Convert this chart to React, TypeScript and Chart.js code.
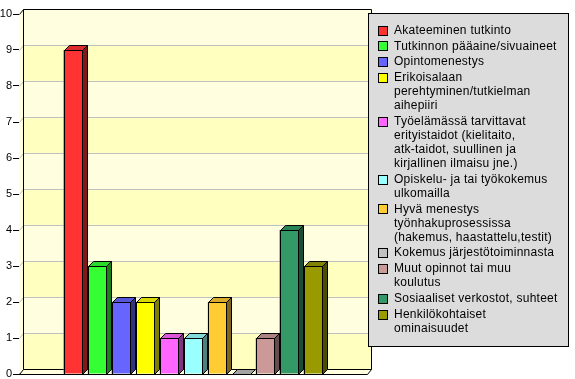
import React, { useEffect, useRef } from 'react';
import { Chart, registerables } from 'chart.js';
Chart.register(...registerables);

const categories = [''];
const seriesLabels = [
  'Akateeminen tutkinto',
  'Tutkinnon pääaine/sivuaineet',
  'Opintomenestys',
  'Erikoisalaan perehtyminen/tutkielman aihepiiri',
  'Työelämässä tarvittavat erityistaidot (kielitaito, atk-taidot, suullinen ja kirjallinen ilmaisu jne.)',
  'Opiskelu- ja tai työkokemus ulkomailla',
  'Hyvä menestys työnhakuprosessissa (hakemus, haastattelu,testit)',
  'Kokemus järjestötoiminnasta',
  'Muut opinnot tai muu koulutus',
  'Sosiaaliset verkostot, suhteet',
  'Henkilökohtaiset ominaisuudet',
];
const legendLines = [
  ['Akateeminen tutkinto'],
  ['Tutkinnon pääaine/sivuaineet'],
  ['Opintomenestys'],
  ['Erikoisalaan', 'perehtyminen/tutkielman', 'aihepiiri'],
  ['Työelämässä tarvittavat', 'erityistaidot (kielitaito,', 'atk-taidot, suullinen ja', 'kirjallinen ilmaisu jne.)'],
  ['Opiskelu- ja tai työkokemus', 'ulkomailla'],
  ['Hyvä menestys', 'työnhakuprosessissa', '(hakemus, haastattelu,testit)'],
  ['Kokemus järjestötoiminnasta'],
  ['Muut opinnot tai muu', 'koulutus'],
  ['Sosiaaliset verkostot, suhteet'],
  ['Henkilökohtaiset', 'ominaisuudet'],
];
const seriesValues = [9, 3, 2, 2, 1, 1, 2, 0, 1, 4, 3];
const seriesColors = [
  '#FF3333', '#33FF33', '#6666FF', '#FFFF00', '#FF66FF', '#99FFFF',
  '#FFCC33', '#C0C0C0', '#CC9999', '#339966', '#999900',
];
const yTicks = [0, 1, 2, 3, 4, 5, 6, 7, 8, 9, 10];

const DX = 5;
const DY = 5;
const WDX = 4;

function shade(hex: string, f: number) {
  const n = parseInt(hex.slice(1), 16);
  const r = Math.round(((n >> 16) & 255) * f);
  const g = Math.round(((n >> 8) & 255) * f);
  const b = Math.round((n & 255) * f);
  return `rgb(${r},${g},${b})`;
}

const wallPlugin = {
  id: 'walls',
  beforeDatasetsDraw(chart: any) {
    const { ctx, chartArea } = chart;
    const ys = chart.scales.y;
    const L = chartArea.left, R = chartArea.right, T = chartArea.top, B = chartArea.bottom;
    ctx.save();
    for (let v = 0; v < 10; v++) {
      const y1 = ys.getPixelForValue(v + 1) - DY;
      const y0 = ys.getPixelForValue(v) - DY;
      ctx.fillStyle = v % 2 === 0 ? '#FFFFC0' : '#FFFFE0';
      ctx.fillRect(L + WDX, y1, R - L, y0 - y1);
    }
    ctx.fillStyle = '#FFFFE0';
    ctx.beginPath();
    ctx.moveTo(L, T); ctx.lineTo(L + WDX, T - DY); ctx.lineTo(L + WDX, B - DY); ctx.lineTo(L, B);
    ctx.closePath(); ctx.fill();
    ctx.beginPath();
    ctx.moveTo(L, B); ctx.lineTo(L + WDX, B - DY); ctx.lineTo(R + WDX, B - DY); ctx.lineTo(R, B);
    ctx.closePath(); ctx.fill();
    ctx.lineWidth = 1;
    ctx.strokeStyle = '#C0C0C0';
    ys.ticks.forEach((t: any) => {
      if (t.value === 0 || t.value === 10) return;
      const y = Math.round(ys.getPixelForValue(t.value)) + 0.5;
      ctx.beginPath();
      ctx.moveTo(L + 0.5, y);
      ctx.lineTo(L + WDX + 0.5, y - DY);
      ctx.lineTo(R + WDX, y - DY);
      ctx.stroke();
    });
    ctx.strokeStyle = '#000';
    ctx.beginPath();
    ctx.rect(L + WDX + 0.5, T - DY + 0.5, R - L, B - T);
    ctx.moveTo(L + 0.5, T + 0.5); ctx.lineTo(L + WDX + 0.5, T - DY + 0.5);
    ctx.moveTo(L + 0.5, B + 0.5); ctx.lineTo(L + WDX + 0.5, B - DY + 0.5);
    ctx.moveTo(L + 0.5, B + 0.5); ctx.lineTo(R + 0.5, B + 0.5);
    ctx.lineTo(R + WDX + 0.5, B - DY + 0.5);
    ctx.stroke();
    ctx.restore();
  },
  afterDatasetsDraw(chart: any) {
    const { ctx } = chart;
    ctx.save();
    ctx.lineWidth = 1;
    ctx.strokeStyle = '#000';
    chart.data.datasets.forEach((ds: any, i: number) => {
      const meta = chart.getDatasetMeta(i);
      meta.data.forEach((bar: any) => {
        const { x, y, base, width } = bar.getProps(['x', 'y', 'base', 'width'], true);
        const l = Math.round(x - width / 2) + 0.5;
        const r = Math.round(x + width / 2) - 0.5;
        const top = Math.round(y) + 0.5;
        const bot = Math.round(base) + 0.5;
        const col = seriesColors[i];
        ctx.fillStyle = shade(col, 0.85);
        ctx.beginPath();
        ctx.moveTo(l, top); ctx.lineTo(l + DX, top - DY); ctx.lineTo(r + DX, top - DY); ctx.lineTo(r, top);
        ctx.closePath(); ctx.fill(); ctx.stroke();
        if (bot > top) {
          ctx.fillStyle = shade(col, 0.5);
          ctx.beginPath();
          ctx.moveTo(r, top); ctx.lineTo(r + DX, top - DY); ctx.lineTo(r + DX, bot - DY); ctx.lineTo(r, bot);
          ctx.closePath(); ctx.fill(); ctx.stroke();
          ctx.beginPath();
          ctx.rect(l, top, r - l, bot - top);
          ctx.stroke();
        }
      });
    });
    ctx.restore();
  },
  afterDraw(chart: any) {
    const { ctx } = chart;
    ctx.save();
    const bx = 368.5, by = 13.5, bw = 200, bh = 333;
    ctx.fillStyle = '#DCDCDC';
    ctx.fillRect(bx, by, bw, bh);
    ctx.strokeStyle = '#000';
    ctx.lineWidth = 1;
    ctx.strokeRect(bx, by, bw, bh);
    ctx.font = '12px "Liberation Sans", Arial, sans-serif';
    (ctx as any).letterSpacing = '0.25px';
    ctx.textBaseline = 'middle';
    ctx.textAlign = 'left';
    let yy = 30.5;
    legendLines.forEach((lines, i) => {
      ctx.fillStyle = seriesColors[i];
      ctx.fillRect(378.5, Math.round(yy) - 4.5, 9, 9);
      ctx.strokeStyle = '#000';
      ctx.strokeRect(378.5, Math.round(yy) - 4.5, 9, 9);
      ctx.fillStyle = '#000';
      lines.forEach((ln, j) => {
        ctx.fillText(ln, 394, yy + j * 14);
      });
      yy += lines.length * 14 + 1.8;
    });
    ctx.restore();
  },
};

export default function App() {
  const ref = useRef<HTMLCanvasElement>(null);
  useEffect(() => {
    document.body.style.margin = '0';
    const chart = new Chart(ref.current as HTMLCanvasElement, {
      type: 'bar',
      data: {
        labels: categories,
        datasets: seriesLabels.map((label, i) => ({
          label,
          data: [seriesValues[i]],
          backgroundColor: seriesColors[i],
          borderColor: '#000',
          borderWidth: 0,
          categoryPercentage: 264 / 348,
          barPercentage: 19 / 24,
        })),
      },
      options: {
        animation: false,
        responsive: true,
        maintainAspectRatio: false,
        layout: { padding: { left: 0, top: 14, right: 208, bottom: 5 } },
        plugins: { legend: { display: false }, tooltip: { enabled: false } },
        scales: {
          x: { display: false },
          y: {
            min: 0,
            max: 10,
            afterFit: (s: any) => { s.width = 19; s.paddingTop = 0; s.paddingBottom = 0; },
            afterBuildTicks: (s: any) => { s.ticks = yTicks.map((v) => ({ value: v })); },
            ticks: {
              stepSize: 1,
              padding: 1,
              color: '#000',
              font: { family: '"Liberation Sans", Arial, sans-serif', size: 11 },
            },
            grid: { drawOnChartArea: false, drawTicks: true, tickLength: 6, color: '#000' },
            border: { display: true, color: '#000' },
          },
        },
      },
      plugins: [wallPlugin],
    });
    return () => chart.destroy();
  }, []);
  return (
    <div style={{ position: 'absolute', left: 0, top: 0, width: 575, height: 379, background: '#fff' }}>
      <canvas ref={ref} />
    </div>
  );
}
